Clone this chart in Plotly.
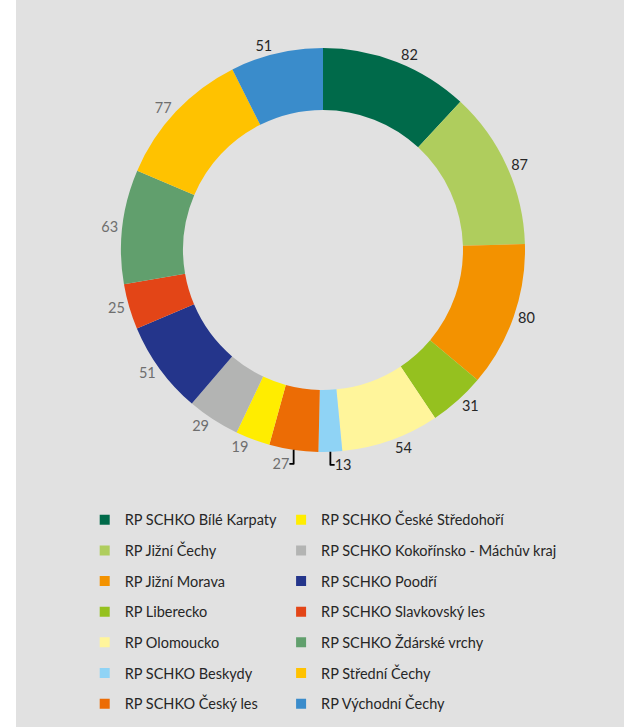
import plotly.graph_objects as go

# Regional workplaces and their counts
categories = [
    "RP SCHKO Bílé Karpaty",
    "RP Jižní Čechy",
    "RP Jižní Morava",
    "RP Liberecko",
    "RP Olomoucko",
    "RP SCHKO Beskydy",
    "RP SCHKO Český les",
    "RP SCHKO České Středohoří",
    "RP SCHKO Kokořínsko - Máchův kraj",
    "RP SCHKO Poodří",
    "RP SCHKO Slavkovský les",
    "RP SCHKO Ždárské vrchy",
    "RP Střední Čechy",
    "RP Východní Čechy",
]
values = [82, 87, 80, 31, 54, 13, 27, 19, 29, 51, 25, 63, 77, 51]

colors = [
    "#006A4A", "#AFCD5D", "#F39200", "#95C11F", "#FFF59B", "#8FD3F5",
    "#EC6C05", "#FFED00", "#B3B4B3", "#24358B", "#E34517", "#619F6D",
    "#FFC200", "#3A8CCB",
]
label_colors = [
    "#262626", "#262626", "#262626", "#262626", "#262626", "#262626",
    "#6E6E6E", "#6E6E6E", "#6E6E6E", "#6E6E6E", "#6E6E6E", "#6E6E6E",
    "#6E6E6E", "#262626",
]

BG = "#E1E1E1"
FONT = "Lato"

fig = go.Figure()

fig.add_trace(go.Pie(
    labels=categories,
    values=values,
    sort=False,
    direction="clockwise",
    rotation=0,
    hole=0.693,
    marker=dict(colors=colors, line=dict(width=0)),
    textinfo="value",
    textposition="outside",
    outsidetextfont=dict(family=FONT, size=14.5, color=label_colors),
    showlegend=False,
    domain=dict(x=[0.1727, 0.8372], y=[0.3783, 0.9340]),
))

# Legend entries: two columns of seven items each
half = len(categories) // 2
for i, (name, col) in enumerate(zip(categories, colors)):
    fig.add_trace(go.Scatter(
        x=[None], y=[None],
        mode="markers",
        marker=dict(symbol="square", size=10, color=col),
        name=name,
        legendgroup=f"g{i}",
        legend="legend" if i < half else "legend2",
        showlegend=True,
    ))

legend_common = dict(
    font=dict(family=FONT, size=14.5, color="#262626"),
    bgcolor="rgba(0,0,0,0)",
    tracegroupgap=8.8,
    itemwidth=30,
    yanchor="top",
    xanchor="left",
    y=0.307,
)

fig.update_layout(
    width=627,
    height=727,
    margin=dict(l=16, r=3, t=0, b=0),
    paper_bgcolor="white",
    plot_bgcolor=BG,
    xaxis=dict(visible=False, range=[0, 1]),
    yaxis=dict(visible=False, range=[0, 1]),
    legend=dict(x=0.113, **legend_common),
    legend2=dict(x=0.436, **legend_common),
)

fig.write_html("out.html")
